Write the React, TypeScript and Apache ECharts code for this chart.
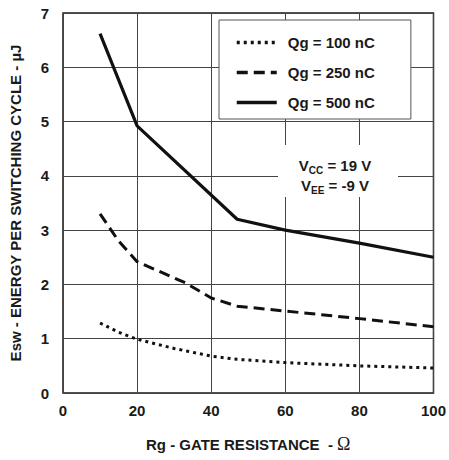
import React, { useEffect, useRef } from "react";
import * as echarts from "echarts";

const xTicks = [0, 20, 40, 60, 80, 100];
const seriesNames = ["Qg = 100 nC", "Qg = 250 nC", "Qg = 500 nC"];
const qg100: [number, number][] = [
  [10, 1.29], [15, 1.12], [20, 0.99], [30, 0.82], [40, 0.68], [47, 0.62], [60, 0.56], [80, 0.5], [100, 0.46],
];
const qg250: [number, number][] = [
  [10, 3.3], [15, 2.8], [20, 2.42], [33, 2.03], [40, 1.75], [47, 1.6], [60, 1.51], [80, 1.37], [100, 1.22],
];
const qg500: [number, number][] = [
  [10, 6.62], [20, 4.92], [47, 3.2], [60, 3.0], [80, 2.76], [100, 2.5],
];

const FONT = '"Liberation Sans Narrow", "Arial Narrow", "Liberation Sans", Arial, sans-serif';

export default function App() {
  const ref = useRef<HTMLDivElement>(null);
  useEffect(() => {
    const chart = echarts.init(ref.current!, undefined, { renderer: "svg" });
    const lineBase = { type: "line", symbol: "none", smooth: false, z: 5 };
    chart.setOption({
      animation: false,
      backgroundColor: "#fff",
      grid: { left: 62, right: 6, top: 13, bottom: 67, show: true, borderColor: "#1a1a1a", borderWidth: 1.5, backgroundColor: "transparent" },
      xAxis: {
        type: "value", min: 0, max: 100, interval: 20,
        axisLine: { show: false }, axisTick: { show: false },
        splitLine: { show: true, lineStyle: { color: "#444", width: 1 } },
        axisLabel: { color: "#1a1a1a", fontFamily: FONT, fontWeight: "bold", fontSize: 15, margin: 10 },
        name: "Rg - GATE RESISTANCE  - {o|Ω}",
        nameLocation: "middle", nameGap: 42,
        nameTextStyle: {
          color: "#1a1a1a", fontFamily: FONT, fontWeight: "bold", fontSize: 15,
          rich: { o: { fontFamily: '"Liberation Serif", "DejaVu Serif", serif', fontWeight: "normal", fontSize: 18, color: "#1a1a1a" } },
        },
      },
      yAxis: {
        type: "value", min: 0, max: 7, interval: 1,
        axisLine: { show: false }, axisTick: { show: false },
        splitLine: { show: true, lineStyle: { color: "#444", width: 1 } },
        axisLabel: { color: "#1a1a1a", fontFamily: FONT, fontWeight: "bold", fontSize: 15, margin: 14 },
        name: "Esw - ENERGY PER SWITCHING CYCLE - µJ",
        nameLocation: "middle", nameGap: 40,
        nameTextStyle: { color: "#1a1a1a", fontFamily: FONT, fontWeight: "bold", fontSize: 15 },
      },
      legend: {
        orient: "vertical", left: 219, top: 20,
        backgroundColor: "#fff", borderColor: "#555", borderWidth: 1,
        padding: [15, 36, 9, 16], itemGap: 15, itemWidth: 40, itemHeight: 14,
        itemStyle: { opacity: 0 },
        lineStyle: { width: 3.5 },
        textStyle: { color: "#1a1a1a", fontFamily: FONT, fontWeight: "bold", fontSize: 15, padding: [0, 0, 0, 6] },
        data: seriesNames,
      },
      series: [
        { ...lineBase, name: seriesNames[0], data: qg100, lineStyle: { color: "#111", width: 3, type: [3, 4], cap: "butt" } },
        { ...lineBase, name: seriesNames[1], data: qg250, lineStyle: { color: "#111", width: 3, type: [11, 6], cap: "butt" } },
        { ...lineBase, name: seriesNames[2], data: qg500, lineStyle: { color: "#111", width: 3.2, type: "solid" } },
      ],
      graphic: [
        { type: "rect", shape: { x: 278, y: 145, width: 120, height: 52 }, style: { fill: "#fff" }, z: 3 },
        {
          type: "text", x: 335, y: 175, z: 4,
          style: {
            text: "V{s|CC} = 19 V\nV{s|EE} = -9 V",
            align: "center", verticalAlign: "middle",
            fill: "#1a1a1a", font: `bold 15px ${FONT}`, lineHeight: 20,
            rich: { s: { fontSize: 10, fontWeight: "bold", fontFamily: FONT, fill: "#1a1a1a", verticalAlign: "bottom", padding: [6, 0, 0, 0] } },
          },
        },
      ],
    });
    return () => chart.dispose();
  }, []);
  return <div ref={ref} style={{ position: "fixed", left: 0, top: 0, width: 449, height: 460 }} />;
}
